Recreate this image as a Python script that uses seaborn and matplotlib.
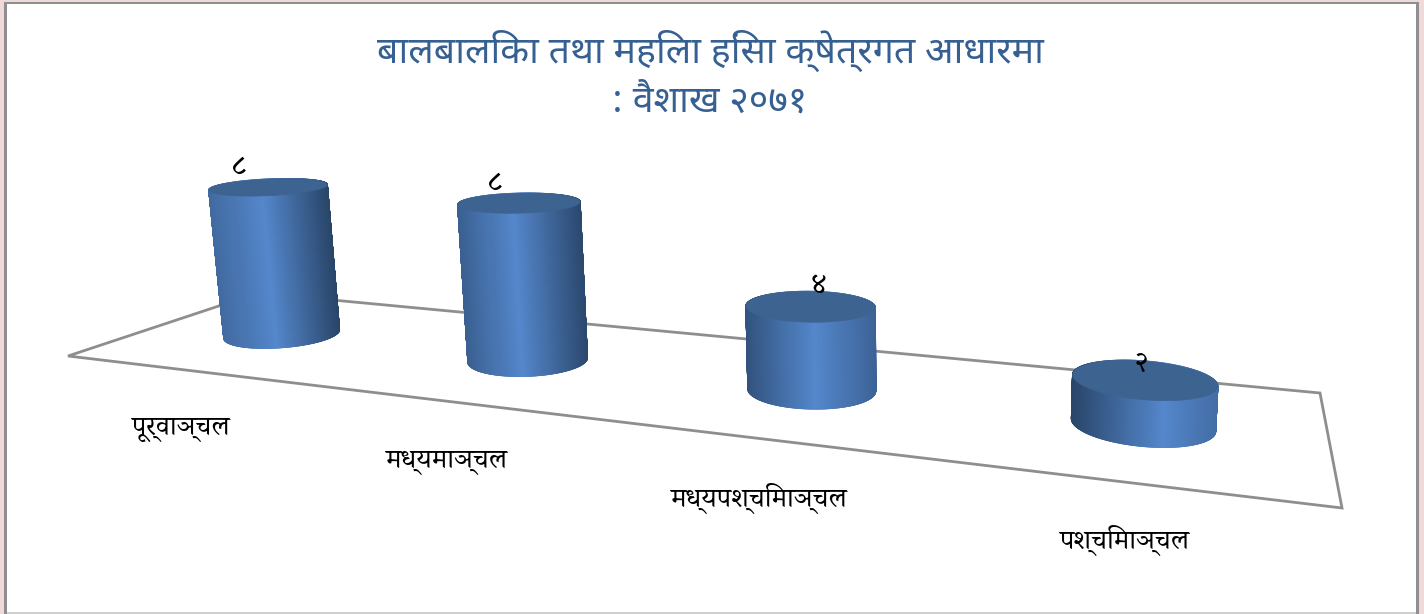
import numpy as np
import pandas as pd
import seaborn as sns
import matplotlib
matplotlib.use('Agg')
import matplotlib.pyplot as plt
from matplotlib.collections import PolyCollection
from matplotlib.patches import Polygon, Rectangle
from matplotlib import font_manager as fm

# values
regions = ['पूर्वाञ्चल', 'मध्यमाञ्चल', 'मध्यपश्चिमाञ्चल', 'पश्चिमाञ्चल']
cases = [8, 8, 4, 2]
value_labels = ['८', '८', '४', '२']
title = 'बालबालिका तथा महिला हिंसा क्षेत्रगत आधारमा\n: वैशाख २०७१'

WIDTH, HEIGHT = 1424, 614
df = pd.DataFrame({'region': regions, 'cases': cases})
sns.set_theme(style='white')


def pick_font(names):
    installed = {f.name for f in fm.fontManager.ttflist}
    return [n for n in names if n in installed] + ['DejaVu Sans']


sans = pick_font(['Noto Sans Devanagari', 'Mukta', 'Hind', 'Annapurna SIL'])
serif = pick_font(['Noto Serif Devanagari', 'Martel', 'Sumana', 'Annapurna SIL', 'Noto Sans Devanagari'])
plt.rcParams['font.family'] = sans

fig = plt.figure(figsize=(WIDTH / 100, HEIGHT / 100), dpi=100)

# seaborn works out the bars, they are then redrawn as cylinders in perspective
helper = fig.add_axes([0, 0, 1, 1])
sns.barplot(data=df, x='region', y='cases', width=0.4, ax=helper)
bars = [(b.get_x(), b.get_width(), b.get_height()) for b in helper.patches]
x_lo, x_hi = helper.get_xlim()
helper.set_visible(False)

ax = fig.add_axes([0, 0, 1, 1])
ax.set_xlim(0, WIDTH)
ax.set_ylim(HEIGHT, 0)
ax.axis('off')

# floor corners as seen in the picture: front left, front right, back right, back left
floor = np.array([[68, 356], [1342, 508], [1320, 393], [258, 293]], dtype=float)
unit = np.array([[0, 0], [1, 0], [1, 1], [0, 1]], dtype=float)


def homography(src, dst):
    rows, rhs = [], []
    for (u, v), (x, y) in zip(src, dst):
        rows.append([u, v, 1, 0, 0, 0, -u * x, -v * x])
        rows.append([0, 0, 0, u, v, 1, -u * y, -v * y])
        rhs += [x, y]
    h = np.linalg.solve(np.array(rows), np.array(rhs))
    return np.append(h, 1).reshape(3, 3)


H = homography(unit, floor)
VANISH = np.array([900.0, 7000.0])   # verticals meet far below the picture
STRETCH = -0.00285


def project(u, v, z=0.0):
    u, v = np.broadcast_arrays(np.asarray(u, float), np.asarray(v, float))
    w = H[2, 0] * u + H[2, 1] * v + 1 + STRETCH * z
    x = (H[0, 0] * u + H[0, 1] * v + H[0, 2] + STRETCH * z * VANISH[0]) / w
    y = (H[1, 0] * u + H[1, 1] * v + H[1, 2] + STRETCH * z * VANISH[1]) / w
    return x, y


# page background and frame
fig.patch.set_facecolor('#efd9d9')
ax.add_patch(Rectangle((4, 2), 1415, 612, fc='#8f8f8f', ec='none', zorder=0))
ax.add_patch(Rectangle((7, 4), 1409, 610, fc='white', ec='none', zorder=0))
ax.add_patch(Rectangle((7, 612), 1409, 2, fc='#cfcfcf', ec='none', zorder=0))

ax.add_patch(Polygon(np.column_stack(project(unit[:, 0], unit[:, 1])), closed=True,
                     fill=False, ec='#8e8e8e', lw=2, joinstyle='miter', zorder=1))

DEPTH_RADIUS = 0.20
DEPTH_CENTER = 0.5
LIGHT = np.array([0.33, 0.53, 0.80])
DARK = np.array([0.16, 0.27, 0.41])
CAP = '#3d6391'
light_at = [0.45, 0.45, 0.52, 0.62]
dark_left = [0.45, 0.6, 0.8, 1.0]
dark_right = [1.0, 0.95, 0.55, 0.4]
value_offset = [(-30, -20), (-24, -19), (8, -21), (-3, -16)]
name_offset = [(91, 21), (74, 16), (49, 8), (7, -5)]

theta = np.linspace(0, 2 * np.pi, 721)
order = np.argsort(-np.sin(theta[:-1]), kind='stable')
for i, (left, wid, val) in enumerate(bars):
    cu = ((left + wid / 2) - x_lo) / (x_hi - x_lo)
    ru = (wid / 2) / (x_hi - x_lo)
    us = cu + ru * np.cos(theta)
    vs = DEPTH_CENTER + DEPTH_RADIUS * np.sin(theta)
    bx, by = project(us, vs)
    tx, ty = project(us, vs, val)
    frac = (bx - bx.min()) / (bx.max() - bx.min())
    shade = np.interp(frac, [0, light_at[i], 1], [dark_left[i], 0, dark_right[i]])
    polys, cols = [], []
    for k in order:
        polys.append([(bx[k], by[k]), (bx[k + 1], by[k + 1]), (tx[k + 1], ty[k + 1]), (tx[k], ty[k])])
        cols.append(LIGHT + (DARK - LIGHT) * shade[k])
    ax.add_collection(PolyCollection(polys, facecolors=cols, edgecolors=cols, linewidths=1.0, zorder=3 + i))
    ax.add_patch(Polygon(np.column_stack([tx, ty]), closed=True, fc=CAP, ec=CAP, lw=0.5, zorder=3 + i))
    cx, cy = project(cu, DEPTH_CENTER, val)
    ax.text(cx + value_offset[i][0], cy + value_offset[i][1], value_labels[i], ha='center', va='center',
            fontsize=21, color='black', family=serif, zorder=10)
    lx, ly = project(cu, -0.42)
    ax.text(lx + name_offset[i][0], ly + name_offset[i][1], regions[i], ha='center', va='center',
            fontsize=20, color='black', family=serif, zorder=10)

ax.text(710, 75, title, ha='center', va='center', fontsize=27, color='#366092', linespacing=1.38, zorder=10)

fig.savefig('out.png', dpi=100, facecolor=fig.get_facecolor())
